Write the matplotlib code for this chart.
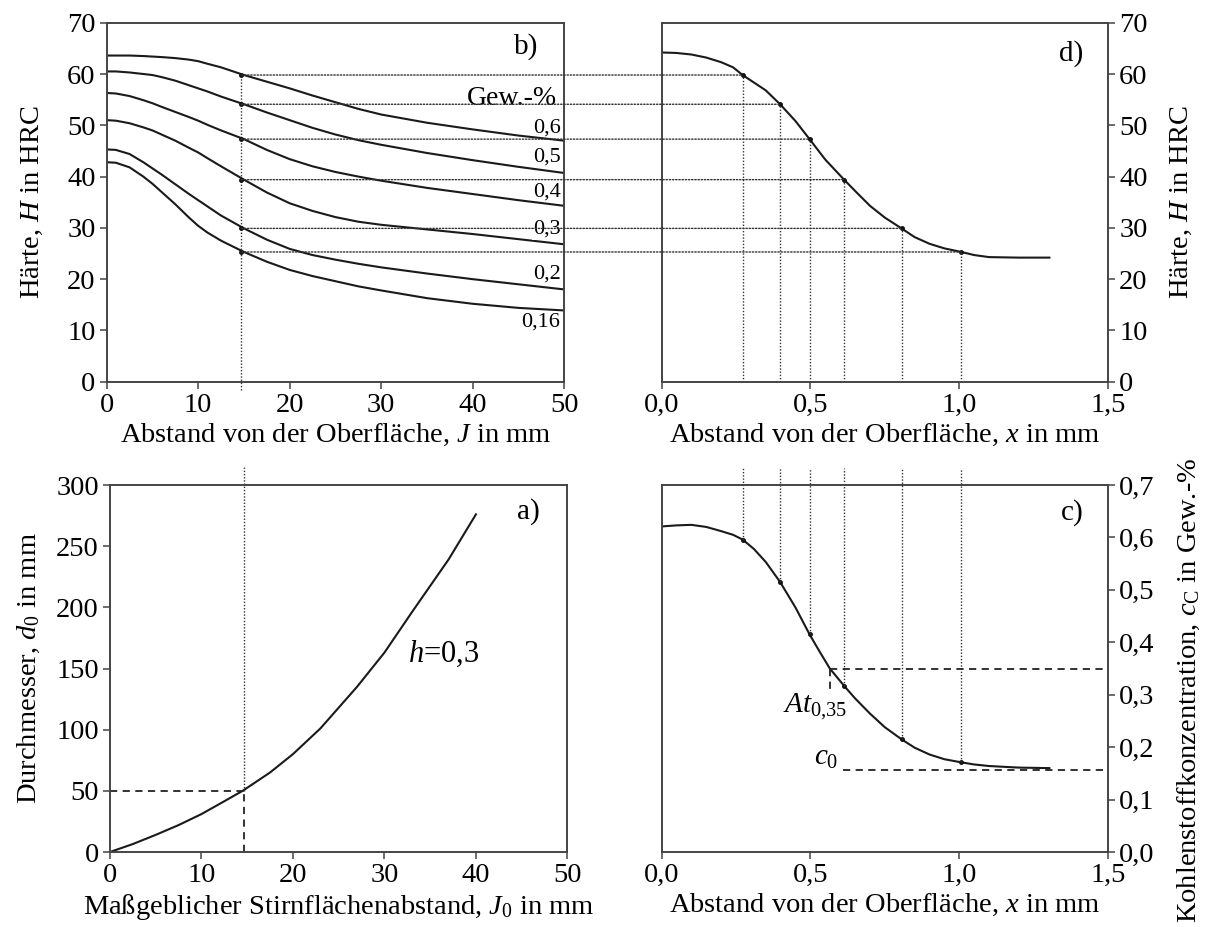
import numpy as np
import matplotlib.pyplot as plt
from matplotlib.patches import ConnectionPatch

plt.rcParams['font.family'] = ['Liberation Serif', 'DejaVu Serif']
plt.rcParams['mathtext.fontset'] = 'custom'
plt.rcParams['mathtext.rm'] = 'Liberation Serif'
plt.rcParams['mathtext.it'] = 'Liberation Serif:italic'
plt.rcParams['font.size'] = 20

# b) hardness vs. Jominy distance for several carbon contents
j_b = [0, 1, 2.5, 4, 5, 6, 7.5, 9, 10, 11, 12.5, 15, 17.5, 20, 22.5, 25, 27.5, 30, 35, 40, 45, 50]
h_06 = [63.6, 63.6, 63.6, 63.5, 63.4, 63.3, 63.1, 62.8, 62.5, 62.0, 61.3, 59.8, 58.5, 57.2, 55.8, 54.5, 53.2, 52.1, 50.5, 49.2, 48.0, 47.0]
h_05 = [60.5, 60.5, 60.3, 60.0, 59.8, 59.4, 58.7, 57.8, 57.2, 56.6, 55.6, 54.1, 52.5, 51.0, 49.5, 48.2, 47.1, 46.2, 44.6, 43.2, 41.9, 40.7]
h_04 = [56.3, 56.2, 55.7, 54.9, 54.3, 53.6, 52.6, 51.6, 50.9, 50.1, 49.0, 47.3, 45.2, 43.4, 42.0, 40.9, 40.0, 39.2, 37.8, 36.6, 35.4, 34.3]
h_03 = [51.0, 50.9, 50.4, 49.6, 49.0, 48.2, 47.0, 45.6, 44.7, 43.6, 42.0, 39.4, 36.9, 34.8, 33.3, 32.1, 31.2, 30.6, 29.7, 28.8, 27.8, 26.8]
h_02 = [45.3, 45.2, 44.4, 42.8, 41.6, 40.4, 38.5, 36.6, 35.4, 34.2, 32.4, 29.9, 27.7, 25.9, 24.7, 23.8, 23.0, 22.3, 21.1, 20.0, 19.0, 18.0]
h_016 = [42.8, 42.7, 41.8, 40.0, 38.6, 37.0, 34.6, 32.0, 30.4, 29.1, 27.5, 25.3, 23.4, 21.8, 20.6, 19.6, 18.6, 17.8, 16.3, 15.2, 14.4, 13.9]
carbon_curves = [h_06, h_05, h_04, h_03, h_02, h_016]
carbon_labels = ['0,6', '0,5', '0,4', '0,3', '0,2', '0,16']
carbon_label_y = [49.4, 43.9, 37.0, 29.7, 21.0, 11.7]

j_mark = 14.7
h_levels = [59.8, 54.1, 47.3, 39.4, 29.9, 25.3]

# d) hardness profile over depth
x_d = [0, 0.05, 0.1, 0.15, 0.2, 0.24, 0.272, 0.35, 0.398, 0.45, 0.497, 0.55, 0.613, 0.65, 0.7, 0.75,
       0.806, 0.85, 0.9, 0.95, 1.007, 1.05, 1.1, 1.15, 1.2, 1.303]
h_d = [64.2, 64.1, 63.8, 63.2, 62.3, 61.3, 59.8, 56.8, 54.1, 50.8, 47.3, 43.3, 39.4, 37.2, 34.3, 32.0,
       29.9, 28.2, 26.9, 26.0, 25.3, 24.7, 24.3, 24.25, 24.2, 24.2]
x_marks = [0.272, 0.398, 0.497, 0.613, 0.806, 1.007]

# c) carbon profile over depth
x_c = [0, 0.05, 0.1, 0.15, 0.2, 0.24, 0.272, 0.31, 0.35, 0.398, 0.45, 0.497, 0.53, 0.565, 0.613, 0.65,
       0.7, 0.75, 0.806, 0.85, 0.9, 0.95, 1.007, 1.05, 1.1, 1.2, 1.303]
c_c = [0.621, 0.623, 0.624, 0.620, 0.612, 0.605, 0.596, 0.578, 0.553, 0.515, 0.466, 0.415, 0.383, 0.350,
       0.317, 0.293, 0.264, 0.238, 0.215, 0.199, 0.186, 0.177, 0.171, 0.167, 0.164, 0.161, 0.160]
c_marks = [0.596, 0.515, 0.415, 0.317, 0.215, 0.171]
c0 = 0.157
x_at, c_at = 0.565, 0.35

# a) diameter vs. relevant Jominy distance
j0 = [0, 2.5, 5, 7.5, 10, 12.5, 14.5, 17.5, 20, 23, 27, 30, 33, 37, 40]
d0 = [0, 6.5, 14, 22, 31, 41.5, 50, 65, 80, 101, 135, 163, 196, 239, 276]
d_mark = 50

W, H = 1207, 927
fig = plt.figure(figsize=(W / 100, H / 100), dpi=100)
ax_b = fig.add_axes([0.0884, 0.5882, 0.379, 0.3873])
ax_d = fig.add_axes([0.5482, 0.5882, 0.3698, 0.3873])
ax_a = fig.add_axes([0.0911, 0.0809, 0.379, 0.3959])
ax_c = fig.add_axes([0.5482, 0.0809, 0.3698, 0.3959])

spine_col = '#444444'
dot = dict(color='#333333', lw=1.0, linestyle=(0, (1, 1.3)))
dash = dict(color='#222222', lw=1.3, linestyle=(0, (4, 3)))
curve = dict(color='#1a1a1a', lw=1.5)
fs = 20.5

for ax in (ax_b, ax_d, ax_a, ax_c):
    for s in ax.spines.values():
        s.set_color(spine_col)
        s.set_linewidth(1.4)
    ax.tick_params(direction='out', length=5, width=1.1, color=spine_col, labelsize=fs, pad=3)

# ---- b)
for h in carbon_curves:
    ax_b.plot(j_b, h, **curve)
for lab, ly in zip(carbon_labels, carbon_label_y):
    ax_b.text(49.6, ly, lab, ha='right', va='center', fontsize=16, zorder=5,
              bbox=dict(facecolor='white', edgecolor='none', pad=0.5) if lab == '0,3' else None)
ax_b.text(49.2, 55.3, 'Gew.-%', ha='right', va='center', fontsize=20, zorder=5,
          bbox=dict(facecolor='white', edgecolor='none', pad=1))
ax_b.text(45.8, 65.3, 'b)', ha='center', va='center', fontsize=21)
ax_b.plot([j_mark, j_mark], [-1.6, h_levels[0]], clip_on=False, **dot)
ax_b.plot([j_mark] * len(h_levels), h_levels, 'o', ms=2.5, color='#111111')
ax_b.set_xlim(0, 50)
ax_b.set_ylim(0, 70)
ax_b.set_xticks([0, 10, 20, 30, 40, 50])
ax_b.set_yticks(range(0, 71, 10))
ax_b.set_xlabel('Abstand von der Oberfläche, $J$ in mm', fontsize=fs, labelpad=3)
ax_b.set_ylabel('Härte, $H$ in HRC', fontsize=fs, labelpad=16)

# ---- d)
ax_d.plot(x_d, h_d, **curve)
ax_d.plot(x_marks, h_levels, 'o', ms=2.5, color='#111111')
for xm, hl in zip(x_marks, h_levels):
    ax_d.plot([xm, xm], [0, hl], **dot)
    con = ConnectionPatch(xyA=(j_mark, hl), coordsA=ax_b.transData,
                          xyB=(xm, hl), coordsB=ax_d.transData,
                          arrowstyle='-', **dot)
    con.set_zorder(1)
    fig.add_artist(con)
ax_d.text(1.375, 64, 'd)', ha='center', va='center', fontsize=21)
ax_d.set_xlim(0, 1.5)
ax_d.set_ylim(0, 70)
ax_d.set_xticks([0, 0.5, 1.0, 1.5])
ax_d.set_xticklabels(['0,0', '0,5', '1,0', '1,5'])
ax_d.set_yticks(range(0, 71, 10))
ax_d.yaxis.tick_right()
ax_d.yaxis.set_label_position('right')
ax_d.set_xlabel('Abstand von der Oberfläche, $x$ in mm', fontsize=fs, labelpad=3)
ax_d.set_ylabel('Härte, $H$ in HRC', fontsize=fs, labelpad=15)

# ---- a)
ax_a.plot(j0, d0, **curve)
ax_a.plot([0, j_mark], [d_mark, d_mark], **dash)
ax_a.plot([j_mark, j_mark], [0, d_mark], **dash)
ax_a.plot([j_mark, j_mark], [d_mark, 315], clip_on=False, **dot)
ax_a.text(36.5, 162, '$h$=0,3', ha='center', va='center', fontsize=22)
ax_a.text(45.7, 278, 'a)', ha='center', va='center', fontsize=21)
ax_a.set_xlim(0, 50)
ax_a.set_ylim(0, 300)
ax_a.set_xticks([0, 10, 20, 30, 40, 50])
ax_a.set_yticks(range(0, 301, 50))
ax_a.set_xlabel('Maßgeblicher Stirnflächenabstand, $J_0$ in mm', fontsize=fs, labelpad=3)
ax_a.set_ylabel('Durchmesser, $d_0$ in mm', fontsize=fs, labelpad=10)

# ---- c)
ax_c.plot(x_c, c_c, **curve)
ax_c.plot(x_marks, c_marks, 'o', ms=2.5, color='#111111')
for xm, cm in zip(x_marks, c_marks):
    ax_c.plot([xm, xm], [cm, 0.733], clip_on=False, **dot)
ax_c.plot([x_at, 1.5], [c_at, c_at], **dash)
ax_c.plot([x_at, x_at], [c_at, 0.302], **dash)
ax_c.plot([0.61, 1.5], [c0, c0], **dash)
ax_c.text(0.515, 0.278, '$At_{0{,}35}$', ha='center', va='center', fontsize=21)
ax_c.text(0.553, 0.179, '$c_0$', ha='center', va='center', fontsize=21)
ax_c.text(1.38, 0.648, 'c)', ha='center', va='center', fontsize=21)
ax_c.set_xlim(0, 1.5)
ax_c.set_ylim(0, 0.7)
ax_c.set_xticks([0, 0.5, 1.0, 1.5])
ax_c.set_xticklabels(['0,0', '0,5', '1,0', '1,5'])
ax_c.set_yticks(np.arange(0, 0.71, 0.1))
ax_c.set_yticklabels(['0,0', '0,1', '0,2', '0,3', '0,4', '0,5', '0,6', '0,7'])
ax_c.yaxis.tick_right()
ax_c.yaxis.set_label_position('right')
ax_c.set_xlabel('Abstand von der Oberfläche, $x$ in mm', fontsize=fs, labelpad=3)
ax_c.set_ylabel('Kohlenstoffkonzentration, $c_\\mathrm{C}$ in Gew.-%', fontsize=fs)
ax_c.yaxis.set_label_coords(1.152, 0.44)

fig.savefig('out.png', dpi=100)
